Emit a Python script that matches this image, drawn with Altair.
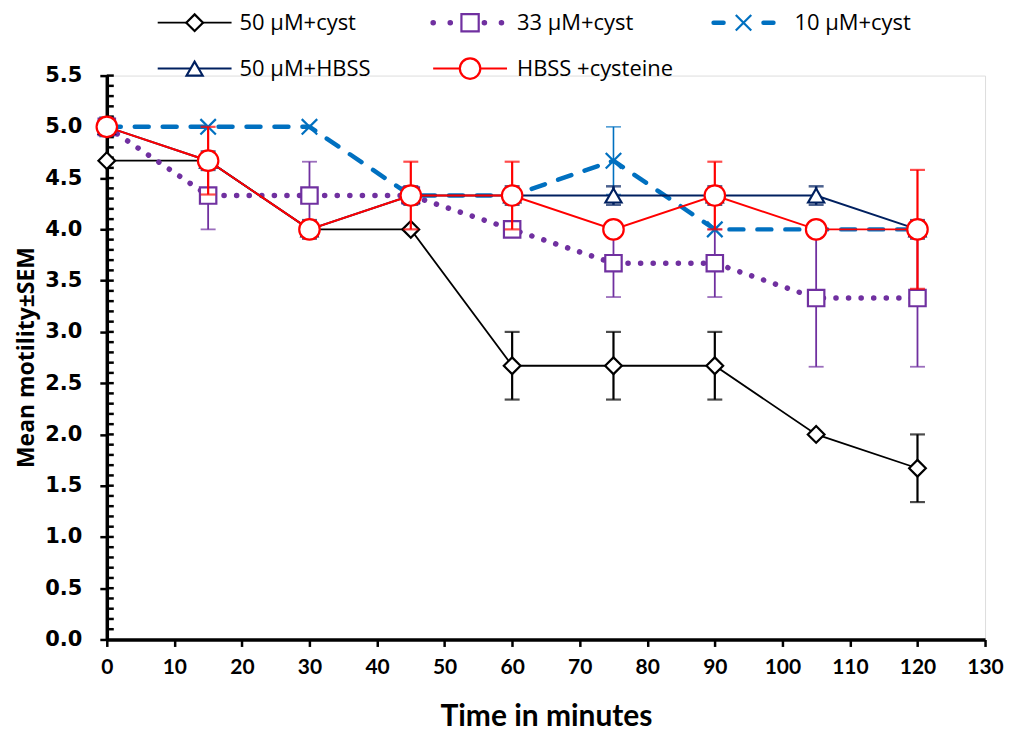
import altair as alt
import pandas as pd

# ---------------- data ----------------
time_min = [0, 15, 30, 45, 60, 75, 90, 105, 120]
series_names = ["50 µM+cyst", "33 µM+cyst", "10 µM+cyst", "50 µM+HBSS", "HBSS +cysteine"]

mean_50_cyst = [4.67, 4.67, 4.00, 4.00, 2.67, 2.67, 2.67, 2.00, 1.67]
sem_50_cyst = [0, 0, 0, 0, 0.33, 0.33, 0.33, 0, 0.33]
mean_33_cyst = [5.00, 4.33, 4.33, 4.33, 4.00, 3.67, 3.67, 3.33, 3.33]
sem_33_cyst = [0, 0.33, 0.33, 0, 0, 0.33, 0.33, 0.67, 0.67]
mean_10_cyst = [5.00, 5.00, 5.00, 4.33, 4.33, 4.67, 4.00, 4.00, 4.00]
sem_10_cyst = [0, 0, 0, 0, 0, 0.33, 0, 0, 0]
mean_50_hbss = [5.00, 4.67, 4.00, 4.33, 4.33, 4.33, 4.33, 4.33, 4.00]
sem_50_hbss = [0.09, 0.09, 0.09, 0.09, 0.09, 0.09, 0.09, 0.09, 0.09]
mean_hbss_cys = [5.00, 4.67, 4.00, 4.33, 4.33, 4.00, 4.33, 4.00, 4.00]
sem_hbss_cys = [0, 0.33, 0, 0.33, 0.33, 0, 0.33, 0, 0.58]

x_ticks = [0, 10, 20, 30, 40, 50, 60, 70, 80, 90, 100, 110, 120, 130]
y_ticks = [0.0, 0.5, 1.0, 1.5, 2.0, 2.5, 3.0, 3.5, 4.0, 4.5, 5.0, 5.5]
y_minor_ticks = [round(0.1 * i, 1) for i in range(1, 56)]

means = [mean_50_cyst, mean_33_cyst, mean_10_cyst, mean_50_hbss, mean_hbss_cys]
sems = [sem_50_cyst, sem_33_cyst, sem_10_cyst, sem_50_hbss, sem_hbss_cys]

rows = []
for name, m, s in zip(series_names, means, sems):
    for t, v, e in zip(time_min, m, s):
        rows.append({"series": name, "time": t, "mean": v, "err": e})
df = pd.DataFrame(rows)
minor_df = pd.DataFrame({"v": y_minor_ticks})
one_row = pd.DataFrame({"k": [0]})

# ---------------- styles ----------------
BLACK = "#000000"
PURPLE = "#7030A0"
BLUE = "#0070C0"
NAVY = "#002060"
RED = "#FF0000"

TITLE_FONT = "Lato"
Y_LABEL_FONT = "DejaVu Sans"
LEGEND_FONT = "Open Sans"

x_scale = alt.Scale(domain=[0, 130], nice=False, zero=False)
y_scale = alt.Scale(domain=[0, 5.5], nice=False)

x_axis = alt.Axis(
    values=x_ticks, title="Time in minutes", grid=False,
    domainColor="black", domainWidth=3.5, tickColor="black", tickWidth=2.5, tickSize=7,
    labelFont=TITLE_FONT, labelFontWeight="bold", labelFontSize=21, labelColor="black",
    labelPadding=10, labelFlush=False,
    titleFont=TITLE_FONT, titleFontWeight="bold", titleFontSize=30, titleColor="black",
    titlePadding=24,
)
y_axis = alt.Axis(
    values=y_ticks, format=".1f", title="Mean motility±SEM", grid=False,
    domainColor="black", domainWidth=3.5, tickColor="black", tickWidth=2.5, tickSize=7,
    labelFont=Y_LABEL_FONT, labelFontWeight="bold", labelFontSize=21, labelColor="black",
    labelPadding=18, labelFlush=False,
    titleFont=LEGEND_FONT, titleFontWeight="bold", titleFontSize=23, titleColor="black",
    titleX=-80, titleY=282, titleAngle=-90, titleAlign="center", titleBaseline="middle",
)


def X(field="time"):
    return alt.X(f"{field}:Q", scale=x_scale, axis=x_axis)


def Y(field="mean"):
    return alt.Y(f"{field}:Q", scale=y_scale, axis=y_axis)


def series_layers(name, color, shape, size, line_props, err_width):
    base = alt.Chart(df).transform_filter(alt.FieldEqualPredicate(field="series", equal=name))
    line = base.mark_line(color=color, **line_props).encode(x=X(), y=Y())
    errbase = base.transform_filter("datum.err > 0").transform_calculate(
        lo="datum.mean - datum.err", hi="datum.mean + datum.err"
    )
    rule = errbase.mark_rule(color=color, strokeWidth=err_width).encode(
        x=X(), y=Y("lo"), y2="hi:Q"
    )
    cap_lo = errbase.mark_tick(color=color, orient="horizontal", size=15, thickness=err_width).encode(
        x=X(), y=Y("lo")
    )
    cap_hi = errbase.mark_tick(color=color, orient="horizontal", size=15, thickness=err_width).encode(
        x=X(), y=Y("hi")
    )
    pts = base.mark_point(shape=shape, size=size, filled=True, fill="white",
                          stroke=color, strokeWidth=2.2, opacity=1).encode(x=X(), y=Y())
    return [line, rule, cap_lo, cap_hi, pts]


XSHAPE = "M-1,-1L1,1M-1,1L1,-1"

styles = [
    (series_names[0], BLACK, "diamond", 280, dict(strokeWidth=1.8), 2.2),
    (series_names[1], PURPLE, "square", 270,
     dict(strokeWidth=5.5, strokeDash=[0.1, 12.5], strokeCap="round"), 1.8),
    (series_names[2], BLUE, XSHAPE, 240,
     dict(strokeWidth=4.5, strokeDash=[14, 14], strokeCap="round"), 1.6),
    (series_names[3], NAVY, "triangle-up", 260, dict(strokeWidth=2), 2.5),
    (series_names[4], RED, "circle", 420, dict(strokeWidth=2), 2.2),
]

layers = []
# inner minor / major ticks on y axis
layers.append(
    alt.Chart(minor_df).mark_rule(color="black", strokeWidth=2.5).encode(
        y=alt.Y("v:Q", scale=y_scale, axis=y_axis), x=alt.value(0), x2=alt.value(7)
    )
)
for st in styles:
    layers.extend(series_layers(*st))

# ---------------- manual legend ----------------
legend_items = [
    # name, color, shape, size, line props, row y, x1, x2, symbol x, text x
    (series_names[0], BLACK, "diamond", 280, dict(strokeWidth=1.8), -53, 51, 125, 88, 133),
    (series_names[1], PURPLE, "square", 300,
     dict(strokeWidth=5.5, strokeDash=[0.1, 17], strokeCap="round"), -53, 327, 401, 364, 411),
    (series_names[2], BLUE, XSHAPE, 240,
     dict(strokeWidth=4.5, strokeDash=[10, 40], strokeCap="round"), -53, 608, 683, 638, 689),
    (series_names[3], NAVY, "triangle-up", 260, dict(strokeWidth=2), -7, 51, 125, 88, 133),
    (series_names[4], RED, "circle", 420, dict(strokeWidth=2), -7, 327, 401, 364, 411),
]
for name, color, shape, size, lp, ly, x1, x2, sx, tx in legend_items:
    lc = alt.Chart(one_row)
    layers.append(lc.mark_rule(color=color, **lp).encode(
        x=alt.value(x1), x2=alt.value(x2), y=alt.value(ly)))
    layers.append(lc.mark_point(shape=shape, size=size, filled=True, fill="white",
                                stroke=color, strokeWidth=2.2, opacity=1).encode(
        x=alt.value(sx), y=alt.value(ly)))
    layers.append(lc.mark_text(align="left", baseline="middle", font=LEGEND_FONT,
                               fontSize=22, color="black").encode(
        x=alt.value(tx), y=alt.value(ly), text=alt.value(name)))

chart = alt.layer(*layers).properties(
    width=880, height=565,
    autosize=alt.AutoSizeParams(type="none"),
    padding={"left": 99, "top": 67, "right": 20, "bottom": 95},
).configure_view(stroke=None).configure(background="white")

chart.save("out.html", embed_options={"renderer": "svg", "actions": False})
